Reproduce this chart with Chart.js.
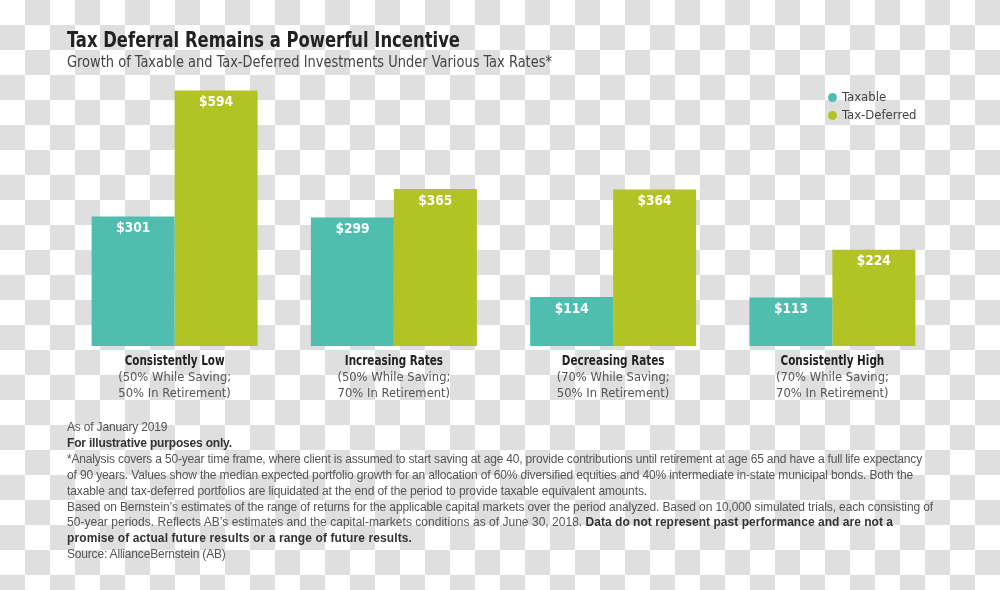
<!DOCTYPE html>
<html>
<head>
<meta charset="utf-8">
<script src="https://cdn.jsdelivr.net/npm/chart.js@4.4.1/dist/chart.umd.min.js"></script>
<style>
  html, body { margin: 0; padding: 0; }
  body {
    width: 1000px; height: 590px; position: relative; overflow: hidden;
    background: repeating-conic-gradient(#dfdfdf 0% 25%, #fff 0% 50%) 0 0 / 50px 50px;
    font-family: "Liberation Sans", Arial, sans-serif;
  }
  #myChart { position: absolute; left: 0; top: 0; }
  .narrow { font-family: "DejaVu Sans Condensed", "DejaVu Sans", sans-serif; }
  .title { position: absolute; left: 67px; top: 28.5px; font-size: 22px; line-height: 22px; font-weight: bold; color: #222; white-space: nowrap; transform-origin: 0 0; }
  .subtitle { position: absolute; left: 67px; top: 53.5px; font-size: 16px; line-height: 16px; color: #444; white-space: nowrap; transform-origin: 0 0; }
  .legend { position: absolute; left: 828px; top: 88px; font-size: 13px; color: #444; }
  .legend div { position: relative; height: 18px; line-height: 18px; padding-left: 14px; white-space: nowrap; }
  .legend i { position: absolute; left: 0; top: 5px; width: 9px; height: 9px; border-radius: 50%; }
  .notes { position: absolute; left: 67px; top: 420px; font-size: 12px; line-height: 15.9px; color: #555; white-space: nowrap; }
  .notes span { display: inline-block; }
  .notes b { color: #333; }
</style>
</head>
<body>
<canvas id="myChart" width="1000" height="590"></canvas>
<div class="title narrow" data-fit="393">Tax Deferral Remains a Powerful Incentive</div>
<div class="subtitle narrow" data-fit="485">Growth of Taxable and Tax-Deferred Investments Under Various Tax Rates*</div>
<div class="legend narrow"></div>
<div class="notes">
  <span>As of January 2019</span><br>
  <span><b>For illustrative purposes only.</b></span><br>
  <span id="ref-line" data-w="855">*Analysis covers a 50-year time frame, where client is assumed to start saving at age 40, provide contributions until retirement at age 65 and have a full life expectancy</span><br>
  <span data-w="846">of 90 years. Values show the median expected portfolio growth for an allocation of 60% diversified equities and 40% intermediate in-state municipal bonds. Both the</span><br>
  <span data-w="580">taxable and tax-deferred portfolios are liquidated at the end of the period to provide taxable equivalent amounts.</span><br>
  <span data-w="866">Based on Bernstein’s estimates of the range of returns for the applicable capital markets over the period analyzed. Based on 10,000 simulated trials, each consisting of</span><br>
  <span data-w="826">50-year periods. Reflects AB’s estimates and the capital-markets conditions as of June 30, 2018. <b>Data do not represent past performance and are not a</b></span><br>
  <span data-w="345"><b>promise of actual future results or a range of future results.</b></span><br>
  <span>Source: AllianceBernstein (AB)</span>
</div>
<script>
'use strict';

// data
let categories = ['Consistently Low', 'Increasing Rates', 'Decreasing Rates', 'Consistently High'];
let savingRates = ['(50% While Saving;', '(50% While Saving;', '(70% While Saving;', '(70% While Saving;'];
let retirementRates = ['50% In Retirement)', '70% In Retirement)', '50% In Retirement)', '70% In Retirement)'];
let seriesNames = ['Taxable', 'Tax-Deferred'];
let taxable = [301, 299, 114, 113];
let taxDeferred = [594, 365, 364, 224];

let colors = ['#4fbeae', '#b2c424'];
let narrowFont = '"DejaVu Sans Condensed", "DejaVu Sans", sans-serif';

// legend
let legend = document.querySelector('.legend');
for (let i = 0; i < seriesNames.length; i++) {
  let item = document.createElement('div');
  item.innerHTML = `<i style="background:${colors[i]}"></i>${seriesNames[i]}`;
  legend.appendChild(item);
}

// headings squeezed to the reference widths
document.querySelectorAll('[data-fit]').forEach(el => {
  let w = el.getBoundingClientRect().width;
  el.style.transform = `scaleX(${+el.dataset.fit / w})`;
});

// footnote lines: letter-spacing to the reference widths, the rest follow line 3
let refLine = document.getElementById('ref-line');
let baseSpacing = (855 - refLine.getBoundingClientRect().width) / refLine.textContent.length;
document.querySelectorAll('.notes span').forEach(el => {
  let w = el.getBoundingClientRect().width;
  let n = el.textContent.length;
  el.style.letterSpacing = el.dataset.w ? ((+el.dataset.w - w) / n) + 'px' : baseSpacing + 'px';
});

function squeezeText(ctx, text, x, y, sx) {
  ctx.save();
  ctx.translate(x, y);
  ctx.scale(sx, 1);
  ctx.fillText(text, 0, 0);
  ctx.restore();
}

let labelPlugin = {
  id: 'labels',
  afterDatasetsDraw(chart) {
    let ctx = chart.ctx;
    ctx.save();
    ctx.textAlign = 'center';
    ctx.textBaseline = 'middle';

    // value labels inside the bar tops
    ctx.fillStyle = '#fff';
    ctx.font = 'bold 14px ' + narrowFont;
    let valueScale = 34 / ctx.measureText('$594').width;
    chart.data.datasets.forEach((ds, i) => {
      chart.getDatasetMeta(i).data.forEach((bar, j) => {
        squeezeText(ctx, '$' + ds.data[j], bar.x, bar.y + 12, valueScale);
      });
    });

    // category labels under the bars
    let xScale = chart.scales.x;
    let bottom = chart.chartArea.bottom;
    ctx.font = 'bold 14px ' + narrowFont;
    let boldScale = 100 / ctx.measureText('Consistently Low').width;
    ctx.font = '13px ' + narrowFont;
    let lightScale = 113 / ctx.measureText('(50% While Saving;').width;
    for (let j = 0; j < categories.length; j++) {
      let x = xScale.getPixelForValue(j);
      ctx.fillStyle = '#222';
      ctx.font = 'bold 14px ' + narrowFont;
      squeezeText(ctx, categories[j], x, bottom + 15, boldScale);
      ctx.fillStyle = '#555';
      ctx.font = '13px ' + narrowFont;
      squeezeText(ctx, savingRates[j], x, bottom + 32, lightScale);
      squeezeText(ctx, retirementRates[j], x, bottom + 48, lightScale);
    }
    ctx.restore();
  }
};

let ctx = document.getElementById('myChart');

let config = {
  type: 'bar',
  data: {
    labels: categories,
    datasets: [
      {
        label: seriesNames[0],
        data: taxable,
        backgroundColor: colors[0],
        borderWidth: 0,
      },
      {
        label: seriesNames[1],
        data: taxDeferred,
        backgroundColor: colors[1],
        borderWidth: 0,
      }
    ]
  },
  options: {
    responsive: false,
    animation: false,
    layout: {
      padding: { left: 65, right: 58, top: 88, bottom: 244 }
    },
    datasets: {
      bar: { barPercentage: 1, categoryPercentage: 0.757 }
    },
    plugins: {
      legend: { display: false },
      tooltip: { enabled: false }
    },
    scales: {
      x: { display: false },
      y: { display: false, min: 0, max: 600 }
    }
  },
  plugins: [labelPlugin]
};

new Chart(ctx, config);
</script>
</body>
</html>
